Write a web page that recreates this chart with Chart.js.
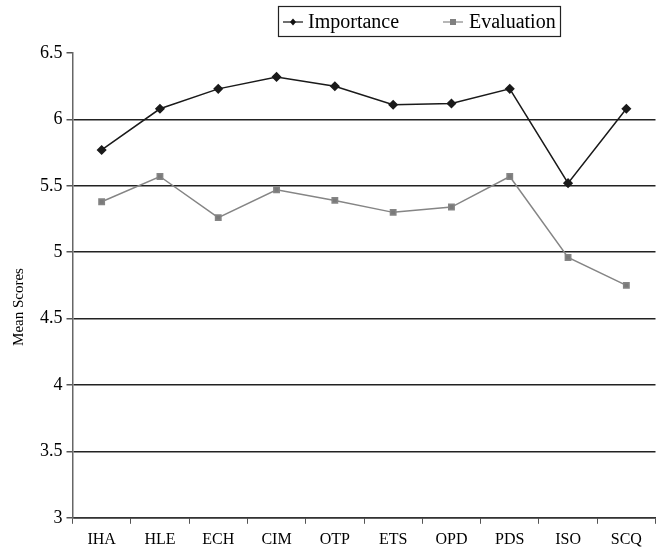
<!DOCTYPE html>
<html lang="en">
<head>
    <meta charset="UTF-8">
    <title>Mean Scores</title>
    <script src="https://cdn.jsdelivr.net/npm/chart.js"></script>
    <style>
        body { margin: 0; padding: 0; background: #fff; }
        #wrap { width: 661px; height: 555px; }
    </style>
</head>
<body>
<div id="wrap"><canvas id="scoreChart" width="661" height="555"></canvas></div>
<script>
    // chart data
    const categories = ['IHA', 'HLE', 'ECH', 'CIM', 'OTP', 'ETS', 'OPD', 'PDS', 'ISO', 'SCQ'];
    const importance = [5.77, 6.08, 6.23, 6.32, 6.25, 6.11, 6.12, 6.23, 5.52, 6.08];
    const evaluation = [5.38, 5.57, 5.26, 5.47, 5.39, 5.30, 5.34, 5.57, 4.96, 4.75];
    const seriesNames = ['Importance', 'Evaluation'];

    const serif = '"Liberation Serif", "DejaVu Serif", serif';

    // boxed legend at the top and the rotated axis title
    const extras = {
        id: 'extras',
        afterDraw(chart) {
            const ctx = chart.ctx;
            ctx.save();
            // legend frame
            ctx.strokeStyle = '#222';
            ctx.lineWidth = 1.2;
            ctx.strokeRect(278.5, 6.5, 282, 30);

            ctx.font = '20px ' + serif;
            ctx.textBaseline = 'middle';
            ctx.textAlign = 'left';
            const y = 22;

            // Importance entry
            ctx.strokeStyle = '#111';
            ctx.lineWidth = 1.2;
            ctx.beginPath(); ctx.moveTo(283, y); ctx.lineTo(303, y); ctx.stroke();
            ctx.fillStyle = '#111';
            ctx.beginPath();
            ctx.moveTo(293, y - 3.5); ctx.lineTo(296, y); ctx.lineTo(293, y + 3.5); ctx.lineTo(290, y);
            ctx.closePath(); ctx.fill();
            ctx.fillStyle = '#000';
            ctx.fillText(seriesNames[0], 308, y + 1);

            // Evaluation entry
            ctx.strokeStyle = '#888';
            ctx.beginPath(); ctx.moveTo(443, y); ctx.lineTo(463, y); ctx.stroke();
            ctx.fillStyle = '#808080';
            ctx.fillRect(450, y - 3, 6, 6);
            ctx.fillStyle = '#000';
            ctx.fillText(seriesNames[1], 469, y + 1);

            // y axis title
            ctx.font = '15px ' + serif;
            ctx.textAlign = 'center';
            ctx.translate(19, 307);
            ctx.rotate(-Math.PI / 2);
            ctx.fillText('Mean Scores', 0, 0);
            ctx.restore();
        }
    };

    new Chart(document.getElementById('scoreChart').getContext('2d'), {
        type: 'line',
        data: {
            labels: categories,
            datasets: [{
                label: seriesNames[0],
                data: importance,
                borderColor: '#1a1a1a',
                backgroundColor: '#1a1a1a',
                borderWidth: 1.5,
                pointStyle: 'rectRot',
                pointRadius: 4,
                tension: 0
            }, {
                label: seriesNames[1],
                data: evaluation,
                borderColor: '#858585',
                backgroundColor: '#7a7a7a',
                borderWidth: 1.5,
                pointStyle: 'rect',
                pointRadius: 3.8,
                tension: 0
            }]
        },
        options: {
            responsive: false,
            animation: false,
            layout: { padding: { left: 36, right: 0, top: 53, bottom: 0 } },
            plugins: {
                legend: { display: false },
                tooltip: { enabled: false }
            },
            scales: {
                x: {
                    offset: true,
                    grid: {
                        display: true,
                        offset: true,
                        drawOnChartArea: false,
                        color: '#555',
                        tickLength: 6
                    },
                    border: { color: '#333', width: 1.5 },
                    ticks: {
                        color: '#000',
                        padding: 6,
                        font: { family: serif, size: 16 }
                    }
                },
                y: {
                    min: 3,
                    max: 6.5,
                    ticks: {
                        stepSize: 0.5,
                        color: '#000',
                        padding: 4,
                        font: { family: serif, size: 18 },
                        callback: v => String(v)
                    },
                    grid: {
                        color: ctx => (ctx.tick && ctx.tick.value === 6.5) ? 'rgba(0,0,0,0)' : '#222',
                        lineWidth: 1.5,
                        tickColor: '#555',
                        tickLength: 6
                    },
                    border: { color: '#666', width: 1.5 }
                }
            }
        },
        plugins: [extras]
    });
</script>
</body>
</html>
